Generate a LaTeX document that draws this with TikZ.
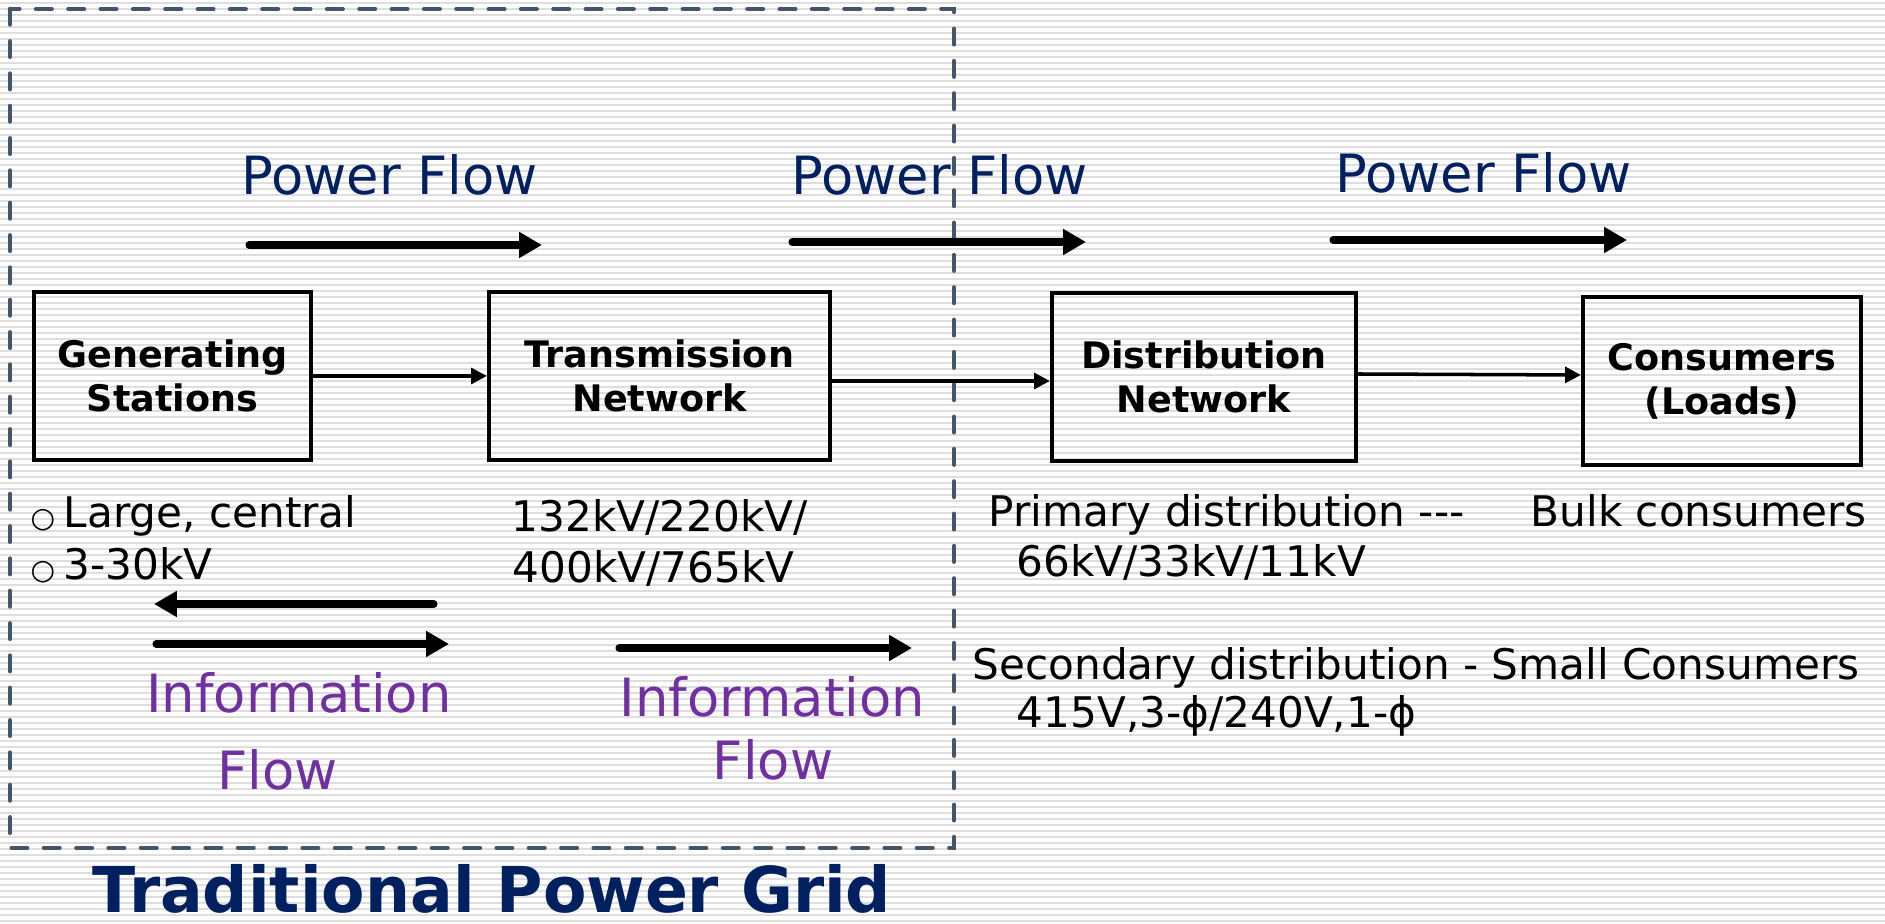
\documentclass[tikz,border=0pt]{standalone}
\usepackage{fontspec}
\setmainfont{DejaVu Sans}
\usepackage{tikz}
\usetikzlibrary{arrows.meta, positioning, calc}
\definecolor{GridNavy}{RGB}{0,32,96}
\definecolor{InfoPurple}{RGB}{112,48,160}
\definecolor{FrameSlate}{RGB}{68,84,106}
\definecolor{StripeGray}{RGB}{222,222,222}
\newcommand{\hollowbullet}{\makebox[9.4pt][l]{\fontsize{8}{8}\selectfont ○}}

\begin{document}
\begin{tikzpicture}[x=0.1mm,y=-0.1mm,
    boxnode/.style={draw=black,line width=1.2pt,minimum height=16.8mm,
                    inner sep=0pt,align=center,
                    font=\fontsize{10.4}{12.5}\selectfont\bfseries},
    flowtext/.style={text=GridNavy,inner sep=0pt,anchor=base,
                     font=\fontsize{15}{18}\selectfont},
    infotext/.style={text=InfoPurple,inner sep=0pt,anchor=base,
                     font=\fontsize{15}{18}\selectfont},
    bodytext/.style={inner sep=0pt,anchor=base west,
                     font=\fontsize{12}{14.5}\selectfont},
    titletext/.style={text=GridNavy,inner sep=0pt,anchor=base,
                      font=\fontsize{18}{21}\selectfont\bfseries},
    stripe/.style={draw=StripeGray,line width=0.55pt},
    gridframe/.style={draw=FrameSlate,line width=1.3pt,line cap=round,
                      dash pattern=on 4.4pt off 4.8pt},
    arr/.style={draw=black,line width=1pt,-{Triangle[length=4.5pt,width=4.5pt]}},
    flowarr/.style={draw=black,line width=2pt,line cap=round,
                    -{Triangle[length=6.5pt,width=7pt]}}
  ]
  \useasboundingbox (0,0) rectangle (1885,924);
  % striped background
  \fill[white] (0,0) rectangle (1885,924);
  \foreach \sy in {3,9,...,921} \draw[stripe] (0,\sy) -- (1885,\sy);
  \draw[gridframe] (10,9) rectangle (954,848);

  % blocks
  \node[boxnode,minimum width=27.7mm] (gen)   at (172.5,376) {Generating\\Stations};
  \node[boxnode,minimum width=34.1mm] (trans) at (659.5,376) {Transmission\\Network};
  \node[boxnode,minimum width=30.4mm] (dist)  at (1204,377)  {Distribution\\Network};
  \node[boxnode,minimum width=27.8mm] (cons)  at (1722,381)  {Consumers\\(Loads)};
  \draw[arr] (gen) -- (trans);
  \draw[arr] ($(trans.east)+(0,5)$) -- ($(dist.west)+(0,4)$);
  \draw[arr] ($(dist.east)+(0,-3)$) -- ($(cons.west)+(0,-6)$);

  % power flow
  \node[flowtext] (pf1) at (389.5,195)  {Power Flow};
  \node[flowtext] (pf2) at (939.5,195)  {Power Flow};
  \node[flowtext] (pf3) at (1483.5,193) {Power Flow};
  \coordinate (pf1s) at (249,245);  \coordinate (pf1e) at (542,245);
  \coordinate (pf2s) at (792,242);  \coordinate (pf2e) at (1086,242);
  \coordinate (pf3s) at (1333,240); \coordinate (pf3e) at (1627,240);
  \draw[flowarr] (pf1s) -- (pf1e);
  \draw[flowarr] (pf2s) -- (pf2e);
  \draw[flowarr] (pf3s) -- (pf3e);

  % information flow
  \coordinate (ret1s) at (434,604); \coordinate (ret1e) at (154,604);
  \coordinate (inf1s) at (156,644); \coordinate (inf1e) at (449,644);
  \coordinate (inf2s) at (619,648); \coordinate (inf2e) at (912,648);
  \draw[flowarr] (ret1s) -- (ret1e);
  \draw[flowarr] (inf1s) -- (inf1e);
  \draw[flowarr] (inf2s) -- (inf2e);
  \node[infotext] (info1)  at (299,713)   {Information};
  \node[infotext] (info1b) at (277.5,790) {Flow};
  \node[infotext] (info2)  at (772.5,717) {Information};
  \node[infotext] (info2b) at (773,780)   {Flow};

  % voltage levels
  \node[bodytext] (genA)   at (30,528)   {\hollowbullet Large, central};
  \node[bodytext] (genB)   at (30,580)   {\hollowbullet 3-30kV};
  \node[bodytext] (transA) at (511,532)  {132kV/220kV/};
  \node[bodytext] (transB) at (512,583)  {400kV/765kV};
  \node[bodytext] (distA)  at (988,527)  {Primary distribution \mbox{-}\mbox{-}\mbox{-}\hspace{18.8pt}Bulk consumers};
  \node[bodytext] (distB)  at (1016,577) {66kV/33kV/11kV};
  \node[bodytext] (distC)  at (972,680)  {Secondary distribution - Small Consumers};
  \node[bodytext] (distD)  at (1016,728) {415V,3-ϕ/240V,1-ϕ};

  \node[titletext] (title) at (492,913) {Traditional Power Grid};
\end{tikzpicture}
\end{document}
